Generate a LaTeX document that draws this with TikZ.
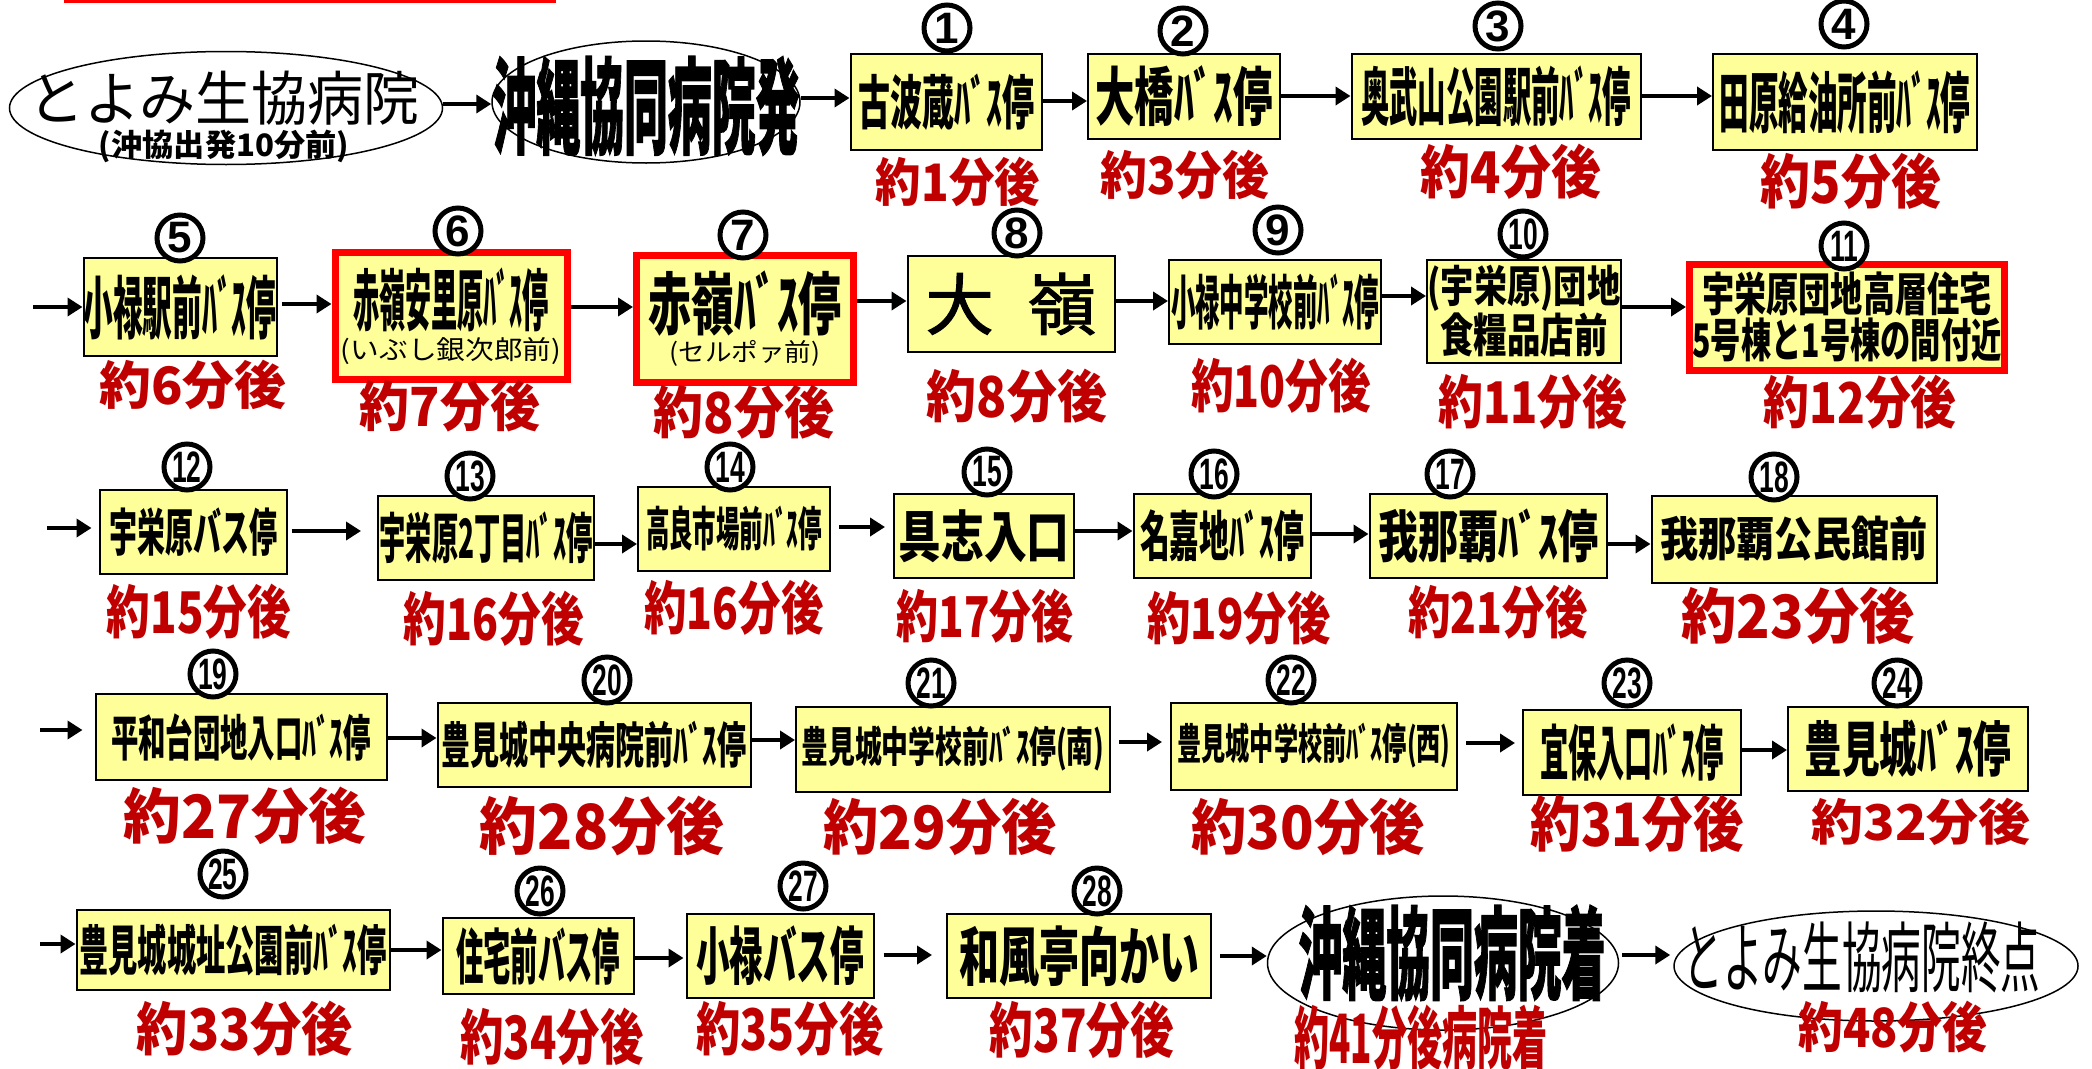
\documentclass[tikz,border=0pt]{standalone}
\usepackage{fontspec}
\usepackage{graphicx}
\usetikzlibrary{arrows.meta,shapes.geometric}
\newfontfamily\jp{Noto Sans CJK JP}
\newfontfamily\jpheavy[FakeBold=1.5]{Noto Sans CJK JP}
\newfontfamily\numfont{Liberation Sans}
\definecolor{boxfill}{HTML}{FFFF99}
\definecolor{lblred}{HTML}{C00000}
\definecolor{bred}{HTML}{FF0000}
\newdimen\fitH
\newcommand\fitt[3]{\fitH=#2pt\fitH=1.13\fitH\resizebox*{#1pt}{\fitH}{#3}}
\newcommand\circnum[1]{\ifnum#1>9 \scalebox{0.6}[1]{#1}\else #1\fi}
\begin{document}
\begin{tikzpicture}[x=1pt,y=-1pt,
  stopbox/.style={draw=black, line width=2pt, fill=boxfill, inner sep=0pt, font=\jp\bfseries, align=center},
  redbox/.style={stopbox, draw=bred, line width=7pt},
  oval/.style={ellipse, draw=black, line width=1.5pt, inner sep=0pt},
  ovaltext/.style={inner sep=0pt, align=center, font=\jp\fontsize{10}{10}\selectfont},
  numc/.style={circle, draw=black, line width=5pt, fill=white, minimum size=46pt, inner sep=0pt,
    font=\numfont\bfseries\fontsize{44}{44}\selectfont},
  lbl/.style={inner sep=0pt, text=lblred, font=\jp\bfseries},
  arr/.style={line width=4.5pt, -{Triangle[length=15pt,width=18pt]}}]
\newcommand\link[4][]{\draw[arr,#1] (#2.east |- 0,#4) -- (#3.west |- 0,#4);}
\useasboundingbox (0,0) rectangle (2092,1068);
\fill[white] (0,0) rectangle (2092,1068);
\fill[bred] (64,0) rectangle (556,3);

% ---------- row 1
\node[oval, minimum width=433pt, minimum height=113pt] (ea) at (226,108) {};
\node[ovaltext] (eat) at (224,117) {\fitt{392}{48}{とよみ生協病院}\\[3pt]{\bfseries\fitt{250}{29}{(沖協出発10分前)}}};
\node[oval, minimum width=308pt, minimum height=122pt] (eb) at (646,102) {};
\node[ovaltext, font=\jpheavy\bfseries] (ebt) at (646,106) {\fitt{307}{88}{沖縄協同病院発}};

\node[stopbox, minimum width=191pt, minimum height=96pt] (b1) at (946,102) {\fitt{176}{50}{古波蔵ﾊﾞｽ停}};
\node[stopbox, minimum width=192pt, minimum height=85pt] (b2) at (1184,96) {\fitt{177}{54}{大橋ﾊﾞｽ停}};
\node[stopbox, minimum width=289pt, minimum height=85pt] (b3) at (1496,96) {\fitt{270}{54}{奥武山公園駅前ﾊﾞｽ停}};
\node[stopbox, minimum width=264pt, minimum height=96pt] (b4) at (1845,102) {\fitt{251}{56}{田原給油所前ﾊﾞｽ停}};

% ---------- row 2
\node[stopbox, minimum width=193pt, minimum height=98pt] (b5) at (180,307) {\fitt{193}{58}{小禄駅前ﾊﾞｽ停}};
\node[redbox, minimum width=232pt, minimum height=127pt] (b6) at (451,316) {\fitt{196}{57}{赤嶺安里原ﾊﾞｽ停}\\[4pt]{\mdseries\fitt{220}{24}{(いぶし銀次郎前)}}};
\node[redbox, minimum width=217pt, minimum height=127pt] (b7) at (745,319) {\fitt{193}{58}{赤嶺ﾊﾞｽ停}\\[3pt]{\mdseries\fitt{151}{23}{(セルポァ前)}}};
\node[stopbox, minimum width=207pt, minimum height=96pt, font=\jpheavy] (b8) at (1011,304) {\fitt{171}{55}{大\hspace{0.5em}嶺}};
\node[stopbox, minimum width=212pt, minimum height=84pt] (b9) at (1275,302) {\fitt{208}{50}{小禄中学校前ﾊﾞｽ停}};
\node[stopbox, minimum width=194pt, minimum height=103pt] (b10) at (1524,311) {\fitt{193}{41}{(宇栄原)団地}\\[0pt]\fitt{167}{39}{食糧品店前}};
\node[redbox, minimum width=315pt, minimum height=106pt] (b11) at (1847,317) {\fitt{290}{39}{宇栄原団地高層住宅}\\[1pt]\fitt{309}{39}{5号棟と1号棟の間付近}};

% ---------- row 3
\node[stopbox, minimum width=187pt, minimum height=84pt] (b12) at (193,532) {\fitt{168}{43}{宇栄原バス停}};
\node[stopbox, minimum width=216pt, minimum height=84pt] (b13) at (486,538) {\fitt{213}{46}{宇栄原2丁目ﾊﾞｽ停}};
\node[stopbox, minimum width=192pt, minimum height=84pt] (b14) at (734,529) {\fitt{176}{40}{高良市場前ﾊﾞｽ停}};
\node[stopbox, minimum width=180pt, minimum height=84pt] (b15) at (984,536) {\fitt{171}{47}{具志入口}};
\node[stopbox, minimum width=177pt, minimum height=84pt] (b16) at (1222,536) {\fitt{164}{46}{名嘉地ﾊﾞｽ停}};
\node[stopbox, minimum width=237pt, minimum height=84pt] (b17) at (1488,536) {\fitt{220}{48}{我那覇ﾊﾞｽ停}};
\node[stopbox, minimum width=285pt, minimum height=87pt] (b18) at (1794,539) {\fitt{267}{40}{我那覇公民館前}};

% ---------- row 4
\node[stopbox, minimum width=291pt, minimum height=86pt] (b19) at (241,737) {\fitt{260}{42}{平和台団地入口ﾊﾞｽ停}};
\node[stopbox, minimum width=313pt, minimum height=84pt] (b20) at (594,745) {\fitt{305}{42}{豊見城中央病院前ﾊﾞｽ停}};
\node[stopbox, minimum width=314pt, minimum height=85pt] (b21) at (953,749) {\fitt{303}{40}{豊見城中学校前ﾊﾞｽ停(南)}};
\node[stopbox, minimum width=286pt, minimum height=87pt] (b22) at (1314,746) {\fitt{273}{40}{豊見城中学校前ﾊﾞｽ停(西)}};
\node[stopbox, minimum width=218pt, minimum height=85pt] (b23) at (1632,752) {\fitt{183}{51}{宜保入口ﾊﾞｽ停}};
\node[stopbox, minimum width=240pt, minimum height=84pt] (b24) at (1908,749) {\fitt{207}{51}{豊見城ﾊﾞｽ停}};

% ---------- row 5
\node[stopbox, minimum width=313pt, minimum height=80pt] (b25) at (233,950) {\fitt{307}{46}{豊見城城址公園前ﾊﾞｽ停}};
\node[stopbox, minimum width=191pt, minimum height=76pt] (b26) at (538,956) {\fitt{164}{51}{住宅前バス停}};
\node[stopbox, minimum width=187pt, minimum height=84pt] (b27) at (780,956) {\fitt{168}{53}{小禄バス停}};
\node[stopbox, minimum width=264pt, minimum height=84pt] (b28) at (1079,956) {\fitt{240}{54}{和風亭向かい}};
\node[oval, minimum width=351pt, minimum height=134pt] (ec) at (1443,963) {};
\node[ovaltext, font=\jpheavy\bfseries] (ect) at (1452,953) {\fitt{307}{85}{沖縄協同病院着}};
\node[oval, minimum width=404pt, minimum height=110pt] (ed) at (1876,966) {};
\node[ovaltext] (edt) at (1862,957) {\fitt{357}{63}{とよみ生協病院終点}};

% ---------- circled numbers
\foreach \n/\t/\x/\y in {n1/1/947/28, n2/2/1183/31, n3/3/1498/26, n4/4/1844/24,
  n5/5/180/238, n6/6/458/231, n7/7/743/235, n8/8/1017/233, n9/9/1278/230, n10/10/1523/234, n11/11/1844/246,
  n12/12/187/467, n13/13/470/476, n14/14/730/467, n15/15/987/472, n16/16/1214/474, n17/17/1450/474, n18/18/1774/477,
  n19/19/213/674, n20/20/607/680, n21/21/931/683, n22/22/1291/680, n23/23/1627/683, n24/24/1897/683,
  n25/25/223/874, n26/26/540/891, n27/27/803/886, n28/28/1097/891}
  \node[numc] (\n) at (\x,\y) {\circnum{\t}};

% ---------- time labels
\foreach \n/\t/\x/\y/\w/\h in {
  l1/約1分後/958/182/164/44, l2/約3分後/1185/175/169/44, l3/約4分後/1511/172/180/49, l4/約5分後/1851/181/180/50,
  l5/約6分後/193/385/187/44, l6/約7分後/450/406/180/46, l7/約8分後/744/412/180/48, l8/約8分後/1017/396/180/48,
  l9/約10分後/1281/386/180/49, l10/約11分後/1533/402/189/49, l11/約12分後/1860/402/193/48,
  l12/約15分後/199/612/184/49, l13/約16分後/494/619/180/49, l14/約16分後/734/608/179/49, l15/約17分後/985/616/177/48,
  l16/約19分後/1239/618/183/48, l17/約21分後/1498/612/179/48, l18/約23分後/1798/616/233/51,
  l19/約27分後/245/816/243/51, l20/約28分後/602/826/244/53, l21/約29分後/940/827/233/51, l22/約30分後/1308/827/233/51,
  l23/約31分後/1637/824/213/51, l24/約32分後/1921/822/219/42,
  l25/約33分後/245/1029/216/49, l26/約34分後/552/1037/183/51, l27/約35分後/790/1029/187/49, l28/約37分後/1082/1030/184/51,
  lc/約41分後病院着/1421/1038/253/58, ld/約48分後/1893/1027/189/46}
  \node[lbl] (\n) at (\x,\y) {\fitt{\w}{\h}{\t}};

% ---------- connectors
\link{ea}{eb}{104}
\link{eb}{b1}{98}
\link{b1}{b2}{101}
\link{b2}{b3}{96}
\link{b3}{b4}{96}

\coordinate (s2) at (33,307);
\draw[arr] (s2) -- (s2 -| b5.west);
\link[shorten <=4pt]{b5}{b6}{304}
\link{b6}{b7}{307}
\link{b7}{b8}{301}
\link{b8}{b9}{301}
\link{b9}{b10}{296}
\link{b10}{b11}{307}

\coordinate (s3) at (47,528);
\draw[arr, shorten >=7pt] (s3) -- (s3 -| b12.west);
\link[shorten <=4pt, shorten >=16pt]{b12}{b13}{531}
\link{b13}{b14}{544}
\link[shorten <=8pt, shorten >=8pt]{b14}{b15}{527}
\link{b15}{b16}{531}
\link{b16}{b17}{534}
\link{b17}{b18}{544}

\coordinate (s4) at (40,730);
\draw[arr, shorten >=12pt] (s4) -- (s4 -| b19.west);
\link{b19}{b20}{738}
\link{b20}{b21}{740}
\link[shorten <=8pt, shorten >=8pt]{b21}{b22}{742}
\link[shorten <=8pt, shorten >=7pt]{b22}{b23}{743}
\link{b23}{b24}{750}

\coordinate (s5) at (40,944);
\draw[arr] (s5) -- (s5 -| b25.west);
\link{b25}{b26}{950}
\link[shorten >=2pt]{b26}{b27}{958}
\link[shorten <=9pt, shorten >=14pt]{b27}{b28}{955}
\link[shorten <=8pt]{b28}{ec}{956}
\link[shorten <=3pt, shorten >=3pt]{ec}{ed}{955}
\end{tikzpicture}
\end{document}
